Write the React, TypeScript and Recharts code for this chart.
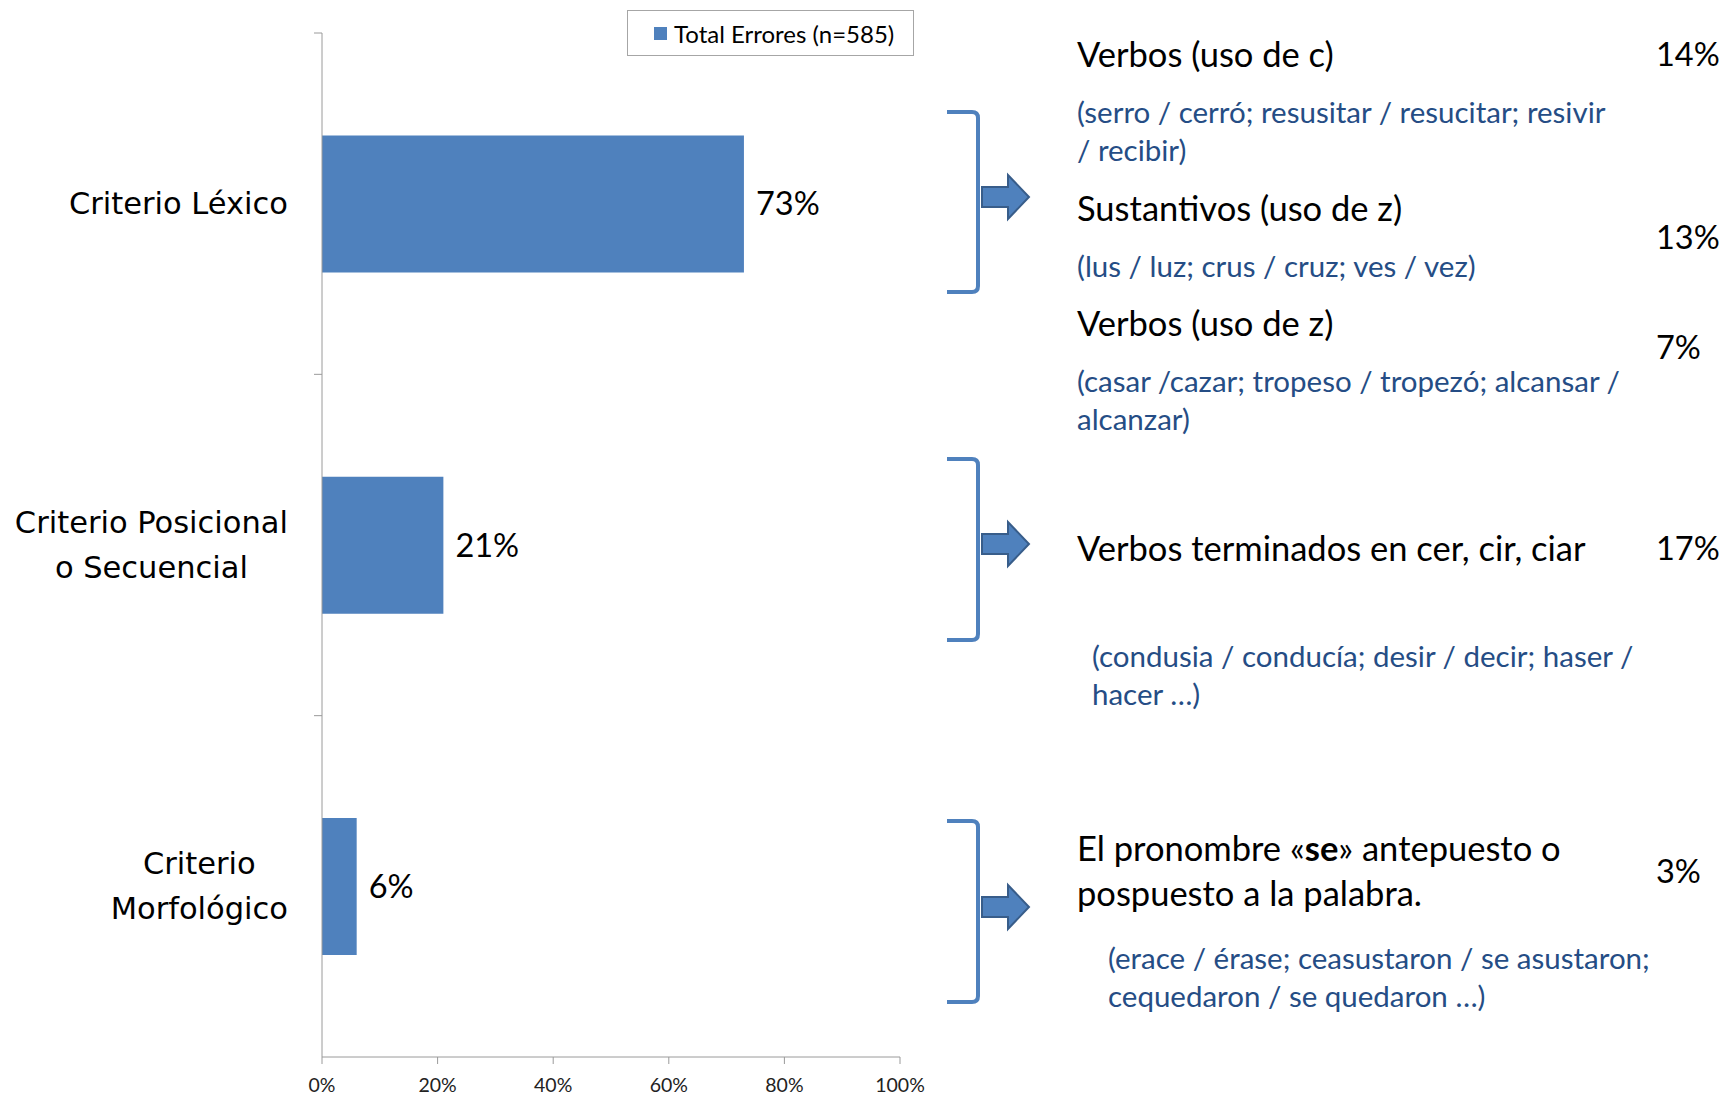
import React from "react";
import {
  BarChart,
  Bar,
  XAxis,
  YAxis,
  LabelList,
} from "recharts";

// data
const categories = ["Criterio Léxico", "Criterio Posicional o Secuencial", "Criterio Morfológico"];
const categoryLines = [["Criterio Léxico"], ["Criterio Posicional", "o Secuencial"], ["Criterio", "Morfológico"]];
const totals = [73, 21, 6];
const xTicks = [0, 20, 40, 60, 80, 100];
const seriesName = "Total Errores (n=585)";

const subTitles = [
  "Verbos (uso de c)",
  "Sustantivos (uso de z)",
  "Verbos (uso de z)",
  "Verbos terminados en cer, cir, ciar",
  "El pronombre «se» antepuesto o|pospuesto a la palabra.",
];
const subExamples = [
  "(serro / cerró; resusitar / resucitar; resivir|/ recibir)",
  "(lus / luz; crus / cruz; ves / vez)",
  "(casar /cazar; tropeso / tropezó; alcansar /|alcanzar)",
  "(condusia / conducía; desir / decir; haser /|hacer …)",
  "(erace / érase; ceasustaron / se asustaron;|cequedaron / se quedaron …)",
];
const subPercents = [14, 13, 7, 17, 3];

const data = categories.map((c, i) => ({ name: c, total: totals[i] }));

// layout
const W = 1723;
const H = 1096;
const PLOT_LEFT = 322;
const PLOT_TOP = 33;
const PLOT_BOTTOM = 1057;
const BAND = (PLOT_BOTTOM - PLOT_TOP) / categories.length;
const BLUE = "#4F81BD";
const TEXT_BLUE = "#254D85";
const CAT_SIZE = 30.5;
const CAT_FONT = `${CAT_SIZE}px "DejaVu Sans"`;

const titleY = [53, 207, 322, 547, 847];
const exampleY = [111, 265, 380, 655, 957];
const exampleX = [1077, 1077, 1077, 1092, 1108];
const pctY = [53, 236, 346, 547, 870];
const brackets = [
  { top: 112, bottom: 292, arrow: 197 },
  { top: 459, bottom: 640, arrow: 544 },
  { top: 821, bottom: 1002, arrow: 907 },
];

let measureCtx: CanvasRenderingContext2D | null = null;
function textWidth(s: string, font: string) {
  if (!measureCtx) measureCtx = document.createElement("canvas").getContext("2d");
  if (!measureCtx) return s.length * 17;
  measureCtx.font = font;
  return measureCtx.measureText(s).width;
}

function CategoryTick(props: any) {
  const { y, payload } = props;
  const idx = categories.indexOf(payload.value);
  const lines = categoryLines[idx] || [payload.value];
  const right = PLOT_LEFT - 34;
  const maxW = Math.max(...lines.map((l) => textWidth(l, CAT_FONT)));
  const cx = right - maxW / 2;
  const lh = 45;
  const startY = y - ((lines.length - 1) * lh) / 2;
  return (
    <g>
      <line x1={PLOT_LEFT - 8} x2={PLOT_LEFT} y1={y - BAND / 2} y2={y - BAND / 2} stroke="#9A9A9A" />
      {lines.map((l, i) => (
        <text
          key={i}
          x={cx}
          y={startY + i * lh}
          textAnchor="middle"
          dominantBaseline="central"
          fontFamily="DejaVu Sans"
          fontSize={CAT_SIZE}
          fill="#000"
        >
          {l}
        </text>
      ))}
    </g>
  );
}

function LegendBox() {
  return (
    <div
      style={{
        position: "absolute",
        left: 627,
        top: 10,
        width: 287,
        height: 46,
        border: "1px solid #A6A6A6",
        background: "#fff",
        boxSizing: "border-box",
        display: "flex",
        alignItems: "center",
        paddingLeft: 26,
        fontFamily: "Lato",
        fontSize: 24,
        color: "#000",
        whiteSpace: "nowrap",
      }}
    >
      <span style={{ width: 13, height: 13, background: BLUE, display: "inline-block", marginRight: 7 }} />
      {seriesName}
    </div>
  );
}

function renderLine(s: string) {
  const parts = s.split(/(«se»)/);
  return parts.map((p, i) =>
    p === "«se»" ? (
      <React.Fragment key={i}>
        «<tspan fontWeight="bold">se</tspan>»
      </React.Fragment>
    ) : (
      <React.Fragment key={i}>{p}</React.Fragment>
    )
  );
}

function Annotations() {
  return (
    <svg width={W} height={H} style={{ position: "absolute", left: 0, top: 0, pointerEvents: "none" }}>
      {brackets.map((b, i) => (
        <g key={i}>
          <path
            d={`M947 ${b.top} L972 ${b.top} Q978 ${b.top} 978 ${b.top + 6} L978 ${b.bottom - 6} Q978 ${b.bottom} 972 ${b.bottom} L947 ${b.bottom}`}
            fill="none"
            stroke={BLUE}
            strokeWidth={4}
          />
          <path
            d={`M982 ${b.arrow - 10} L1008 ${b.arrow - 10} L1008 ${b.arrow - 22} L1029 ${b.arrow} L1008 ${b.arrow + 22} L1008 ${b.arrow + 10} L982 ${b.arrow + 10} Z`}
            fill={BLUE}
            stroke="#385D8A"
            strokeWidth={2}
          />
        </g>
      ))}
      {subTitles.map((t, i) => (
        <g key={i}>
          {t.split("|").map((line, j) => (
            <text
              key={j}
              x={1077}
              y={titleY[i] + j * 45}
              dominantBaseline="central"
              fontFamily="Lato"
              fontSize={34.5}
              fill="#000"
            >
              {renderLine(line)}
            </text>
          ))}
          {subExamples[i].split("|").map((line, j) => (
            <text
              key={"e" + j}
              x={exampleX[i]}
              y={exampleY[i] + j * 38}
              dominantBaseline="central"
              fontFamily="Lato"
              fontSize={29.5}
              fill={TEXT_BLUE}
            >
              {line}
            </text>
          ))}
          <text x={1656} y={pctY[i]} dominantBaseline="central" fontFamily="Lato" fontSize={32.5} fill="#000">
            {subPercents[i]}%
          </text>
        </g>
      ))}
    </svg>
  );
}

export default function App() {
  return (
    <div style={{ position: "absolute", left: 0, top: 0, width: W, height: H, background: "#fff" }}>
      <BarChart
        width={W}
        height={H}
        data={data}
        layout="vertical"
        margin={{ top: PLOT_TOP, right: W - 900, bottom: 0, left: 0 }}
        barCategoryGap="30%"
      >
        <XAxis
          type="number"
          domain={[0, 100]}
          ticks={xTicks}
          tickFormatter={(v) => `${v}%`}
          height={H - PLOT_BOTTOM}
          axisLine={{ stroke: "#9A9A9A" }}
          tickLine={{ stroke: "#9A9A9A" }}
          tickSize={7}
          tickMargin={14}
          tick={{ fontFamily: "Lato", fontSize: 19.5, fill: "#222" }}
          interval={0}
        />
        <YAxis
          type="category"
          dataKey="name"
          width={PLOT_LEFT}
          axisLine={{ stroke: "#9A9A9A" }}
          tickLine={false}
          tickSize={0}
          tick={<CategoryTick />}
          interval={0}
        />
        <Bar dataKey="total" name={seriesName} fill={BLUE} isAnimationActive={false}>
          <LabelList
            dataKey="total"
            position="right"
            offset={12}
            formatter={(v: any) => `${v}%`}
            style={{ fontFamily: "Lato", fontSize: 32.5, fill: "#000" }}
          />
        </Bar>
      </BarChart>
      <LegendBox />
      <Annotations />
    </div>
  );
}
